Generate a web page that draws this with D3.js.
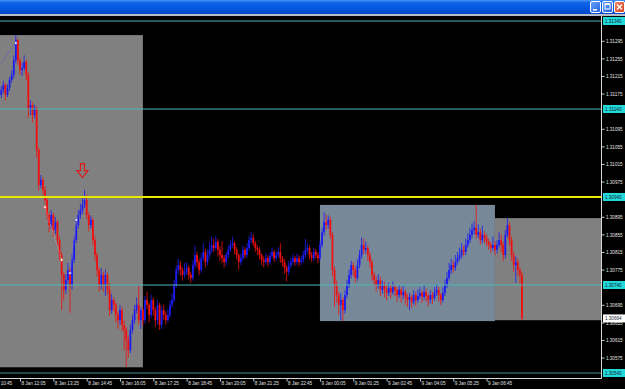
<!DOCTYPE html>
<html>
<head>
<meta charset="utf-8">
<script src="https://cdn.jsdelivr.net/npm/d3@7"></script>
<style>
  html, body { margin: 0; padding: 0; background: #000; overflow: hidden; }
  svg { display: block; }
  text { font-family: "Liberation Sans", Arial, sans-serif; }
</style>
</head>
<body>
<svg id="chart" width="625" height="389"></svg>
<script>
// M5 bars as [open, high, low, close], one array per session
const bars8JanA = [ // from 8 Jan 11:20
  [1.31172,1.31192,1.31165,1.31183],[1.31183,1.31204,1.31176,1.31195],[1.31195,1.31199,1.31160,1.31172],[1.31172,1.31196,1.31167,1.31188],
  [1.31188,1.31213,1.31181,1.31206],[1.31206,1.31228,1.31199,1.31217],[1.31217,1.31262,1.31210,1.31251],[1.31251,1.31308,1.31244,1.31297],
  [1.31297,1.31300,1.31240,1.31251],[1.31251,1.31256,1.31218,1.31229],[1.31229,1.31245,1.31215,1.31233],[1.31233,1.31262,1.31226,1.31247],
  [1.31247,1.31252,1.31206,1.31217],[1.31217,1.31224,1.31120,1.31138],[1.31138,1.31160,1.31126,1.31149],[1.31149,1.31155,1.31110,1.31126],
  [1.31126,1.31150,1.31118,1.31142],[1.31142,1.31146,1.31030,1.31047],[1.31047,1.31052,1.30955,1.30967],[1.30967,1.30990,1.30960,1.30979],
  [1.30979,1.30985,1.30945,1.30956],[1.30956,1.30965,1.30925,1.30933],[1.30933,1.30940,1.30888,1.30899],[1.30899,1.30905,1.30860,1.30876],
  [1.30876,1.30910,1.30868,1.30899],[1.30899,1.30904,1.30850,1.30865],[1.30865,1.30895,1.30855,1.30883],[1.30883,1.30888,1.30830,1.30842],
  [1.30842,1.30850,1.30795,1.30808],[1.30808,1.30815,1.30683,1.30763],[1.30763,1.30770,1.30705,1.30729],[1.30729,1.30765,1.30720,1.30751],
  [1.30751,1.30790,1.30740,1.30774],[1.30774,1.30780,1.30677,1.30740],[1.30740,1.30810,1.30730,1.30797],[1.30797,1.30850,1.30790,1.30842],
  [1.30842,1.30885,1.30835,1.30876],[1.30876,1.30910,1.30868,1.30899],[1.30899,1.30925,1.30890,1.30910],[1.30910,1.30940,1.30902,1.30922],
  [1.30922,1.30956,1.30915,1.30933],[1.30933,1.30945,1.30890,1.30899],[1.30899,1.30905,1.30862,1.30876],[1.30876,1.30898,1.30868,1.30888],
  [1.30888,1.30893,1.30830,1.30842],[1.30842,1.30850,1.30795,1.30808],[1.30808,1.30815,1.30760,1.30774],[1.30774,1.30780,1.30725,1.30740],
  [1.30740,1.30778,1.30730,1.30763],[1.30763,1.30770,1.30725,1.30740],[1.30740,1.30775,1.30715,1.30763],[1.30763,1.30768,1.30718,1.30729],
  [1.30729,1.30745,1.30670,1.30683],[1.30683,1.30720,1.30675,1.30706],[1.30706,1.30712,1.30680,1.30695],[1.30695,1.30700,1.30655,1.30672],
  [1.30672,1.30680,1.30640,1.30660],[1.30660,1.30695,1.30650,1.30683],[1.30683,1.30690,1.30635,1.30649],[1.30649,1.30660,1.30592,1.30638],
  [1.30638,1.30645,1.30553,1.30615],[1.30615,1.30625,1.30575,1.30592],[1.30592,1.30650,1.30585,1.30638],[1.30638,1.30672,1.30630,1.30660],
  [1.30660,1.30695,1.30652,1.30683],[1.30683,1.30712,1.30675,1.30695],[1.30695,1.30740,1.30650,1.30660],[1.30660,1.30690,1.30640,1.30683]
];
const bars8JanB = [ // from 8 Jan 17:00
  [1.30683,1.30690,1.30648,1.30660],[1.30660,1.30715,1.30652,1.30706],[1.30706,1.30725,1.30685,1.30695],[1.30695,1.30700,1.30655,1.30672],
  [1.30672,1.30718,1.30665,1.30706],[1.30706,1.30712,1.30670,1.30683],[1.30683,1.30690,1.30645,1.30660],[1.30660,1.30705,1.30650,1.30695],
  [1.30695,1.30700,1.30638,1.30649],[1.30649,1.30692,1.30640,1.30683],[1.30683,1.30695,1.30660,1.30672],[1.30672,1.30680,1.30650,1.30660],
  [1.30660,1.30685,1.30655,1.30672],[1.30672,1.30705,1.30665,1.30695],[1.30695,1.30720,1.30688,1.30706],[1.30706,1.30752,1.30700,1.30740],
  [1.30740,1.30785,1.30733,1.30774],[1.30774,1.30800,1.30765,1.30785],[1.30785,1.30795,1.30760,1.30774],[1.30774,1.30780,1.30750,1.30763],
  [1.30763,1.30790,1.30755,1.30770],[1.30770,1.30792,1.30762,1.30779],[1.30779,1.30785,1.30752,1.30763],[1.30763,1.30770,1.30745,1.30756],
  [1.30756,1.30797,1.30750,1.30785],[1.30785,1.30830,1.30778,1.30808],[1.30808,1.30815,1.30780,1.30792],[1.30792,1.30800,1.30762,1.30774],
  [1.30774,1.30812,1.30768,1.30801],[1.30801,1.30835,1.30795,1.30815],[1.30815,1.30822,1.30780,1.30792],[1.30792,1.30820,1.30785,1.30808],
  [1.30808,1.30838,1.30800,1.30820],[1.30820,1.30850,1.30812,1.30831],[1.30831,1.30845,1.30815,1.30824],[1.30824,1.30852,1.30818,1.30838],
  [1.30838,1.30845,1.30805,1.30820],[1.30820,1.30828,1.30795,1.30808],[1.30808,1.30840,1.30790,1.30801],[1.30801,1.30808,1.30780,1.30792],
  [1.30792,1.30815,1.30785,1.30808],[1.30808,1.30830,1.30800,1.30820],[1.30820,1.30842,1.30815,1.30831],[1.30831,1.30850,1.30825,1.30835],
  [1.30835,1.30840,1.30810,1.30820],[1.30820,1.30826,1.30798,1.30808],[1.30808,1.30812,1.30775,1.30792],[1.30792,1.30812,1.30785,1.30801],
  [1.30801,1.30830,1.30795,1.30820],[1.30820,1.30826,1.30800,1.30808],[1.30808,1.30835,1.30802,1.30824],[1.30824,1.30852,1.30818,1.30842],
  [1.30842,1.30860,1.30835,1.30847],[1.30847,1.30855,1.30828,1.30835],[1.30835,1.30840,1.30815,1.30824],[1.30824,1.30830,1.30808,1.30820],
  [1.30820,1.30826,1.30798,1.30808],[1.30808,1.30812,1.30785,1.30797],[1.30797,1.30805,1.30780,1.30792],[1.30792,1.30812,1.30786,1.30801],
  [1.30801,1.30808,1.30782,1.30792],[1.30792,1.30815,1.30786,1.30806],[1.30806,1.30825,1.30800,1.30815],[1.30815,1.30820,1.30792,1.30801],
  [1.30801,1.30818,1.30795,1.30808],[1.30808,1.30826,1.30802,1.30815],[1.30815,1.30835,1.30790,1.30801],[1.30801,1.30806,1.30782,1.30792],
  [1.30792,1.30798,1.30765,1.30779],[1.30779,1.30785,1.30748,1.30770],[1.30770,1.30795,1.30762,1.30785],[1.30785,1.30802,1.30778,1.30792],
  [1.30792,1.30810,1.30786,1.30801],[1.30801,1.30806,1.30784,1.30792],[1.30792,1.30812,1.30786,1.30801],[1.30801,1.30808,1.30783,1.30792],
  [1.30792,1.30806,1.30786,1.30797],[1.30797,1.30818,1.30790,1.30808],[1.30808,1.30845,1.30802,1.30820],[1.30820,1.30835,1.30812,1.30824],
  [1.30824,1.30830,1.30798,1.30808],[1.30808,1.30815,1.30792,1.30801],[1.30801,1.30825,1.30795,1.30815],[1.30815,1.30822,1.30800,1.30808]
];
const bars9JanA = [ // from 9 Jan 00:00
  [1.30808,1.30815,1.30790,1.30801],[1.30801,1.30840,1.30795,1.30831],[1.30831,1.30870,1.30825,1.30860],[1.30860,1.30905,1.30852,1.30883],
  [1.30883,1.30900,1.30865,1.30876],[1.30876,1.30898,1.30868,1.30888],[1.30888,1.30895,1.30845,1.30854],[1.30854,1.30860,1.30760,1.30774],
  [1.30774,1.30782,1.30690,1.30740],[1.30740,1.30750,1.30700,1.30717],[1.30717,1.30725,1.30672,1.30695],[1.30695,1.30722,1.30660,1.30706],
  [1.30706,1.30712,1.30658,1.30683],[1.30683,1.30728,1.30675,1.30717],[1.30717,1.30752,1.30710,1.30740],[1.30740,1.30775,1.30733,1.30763],
  [1.30763,1.30795,1.30755,1.30785],[1.30785,1.30792,1.30760,1.30774],[1.30774,1.30780,1.30745,1.30756],[1.30756,1.30798,1.30750,1.30785],
  [1.30785,1.30820,1.30778,1.30808],[1.30808,1.30848,1.30800,1.30831],[1.30831,1.30845,1.30810,1.30820],[1.30820,1.30838,1.30812,1.30824],
  [1.30824,1.30830,1.30795,1.30808],[1.30808,1.30815,1.30780,1.30792],[1.30792,1.30798,1.30750,1.30763],[1.30763,1.30770,1.30738,1.30751],
  [1.30751,1.30760,1.30725,1.30740],[1.30740,1.30765,1.30732,1.30751],[1.30751,1.30758,1.30715,1.30729],[1.30729,1.30750,1.30720,1.30740],
  [1.30740,1.30748,1.30712,1.30729],[1.30729,1.30740,1.30705,1.30722],[1.30722,1.30745,1.30715,1.30733],[1.30733,1.30740,1.30710,1.30724],
  [1.30724,1.30748,1.30718,1.30735],[1.30735,1.30742,1.30715,1.30729],[1.30729,1.30735,1.30702,1.30717],[1.30717,1.30740,1.30710,1.30729],
  [1.30729,1.30735,1.30700,1.30717],[1.30717,1.30738,1.30708,1.30724],[1.30724,1.30730,1.30695,1.30713],[1.30713,1.30720,1.30690,1.30706],
  [1.30706,1.30722,1.30683,1.30713],[1.30713,1.30718,1.30688,1.30701],[1.30701,1.30728,1.30695,1.30717],[1.30717,1.30724,1.30692,1.30706],
  [1.30706,1.30730,1.30700,1.30715],[1.30715,1.30735,1.30708,1.30722],[1.30722,1.30728,1.30700,1.30713],[1.30713,1.30740,1.30706,1.30724],
  [1.30724,1.30732,1.30702,1.30715],[1.30715,1.30720,1.30692,1.30706],[1.30706,1.30728,1.30698,1.30717],[1.30717,1.30724,1.30696,1.30710],
  [1.30710,1.30735,1.30704,1.30722],[1.30722,1.30742,1.30715,1.30729],[1.30729,1.30736,1.30702,1.30717],[1.30717,1.30722,1.30695,1.30706],
  [1.30706,1.30735,1.30700,1.30722],[1.30722,1.30752,1.30715,1.30740],[1.30740,1.30770,1.30733,1.30756],[1.30756,1.30790,1.30750,1.30774],
  [1.30774,1.30800,1.30765,1.30785],[1.30785,1.30795,1.30768,1.30779],[1.30779,1.30808,1.30772,1.30792],[1.30792,1.30815,1.30785,1.30801],
  [1.30801,1.30825,1.30795,1.30808],[1.30808,1.30835,1.30800,1.30820],[1.30820,1.30830,1.30805,1.30815],[1.30815,1.30845,1.30808,1.30831],
  [1.30831,1.30858,1.30825,1.30842],[1.30842,1.30870,1.30835,1.30854],[1.30854,1.30880,1.30846,1.30865],[1.30865,1.30885,1.30855,1.30870],
  [1.30870,1.30922,1.30845,1.30854],[1.30854,1.30878,1.30846,1.30860],[1.30860,1.30868,1.30832,1.30842],[1.30842,1.30875,1.30835,1.30854],
  [1.30854,1.30862,1.30835,1.30847],[1.30847,1.30855,1.30828,1.30838],[1.30838,1.30845,1.30820,1.30831],[1.30831,1.30838,1.30812,1.30824]
];
const bars9JanB = [ // from 9 Jan 07:00
  [1.30824,1.30850,1.30818,1.30831],[1.30831,1.30840,1.30808,1.30820],[1.30820,1.30842,1.30812,1.30831],[1.30831,1.30860,1.30825,1.30842],
  [1.30842,1.30855,1.30815,1.30831],[1.30831,1.30838,1.30795,1.30808],[1.30808,1.30865,1.30800,1.30854],[1.30854,1.30892,1.30848,1.30876],
  [1.30876,1.30882,1.30830,1.30842],[1.30842,1.30850,1.30795,1.30808],[1.30808,1.30815,1.30770,1.30785],[1.30785,1.30805,1.30745,1.30792],
  [1.30792,1.30800,1.30760,1.30774],[1.30774,1.30780,1.30745,1.30763],[1.30763,1.30770,1.30660,1.30664]
];
const sessionStarts = ['2013-01-08 11:20', '2013-01-08 17:00', '2013-01-09 00:00', '2013-01-09 07:00'];

// range boxes drawn behind the bars
const boxStarts = ['2013-01-08 09:00', '2013-01-09 00:05', '2013-01-09 07:05'];
const boxEnds = ['2013-01-08 17:00', '2013-01-09 07:05', '2013-01-09 12:00'];
const boxHighs = [1.31308, 1.30922, 1.30892];
const boxLows = [1.30553, 1.30658, 1.30660];

// horizontal lines
const levelPrices = [1.31340, 1.31140, 1.30940, 1.30740, 1.30540];
const currentPrice = 1.30664;

// axis ticks
const priceTicks = [1.30575, 1.30615, 1.30655, 1.30695, 1.30775, 1.30815, 1.30855, 1.30895,
  1.30975, 1.31015, 1.31055, 1.31095, 1.31175, 1.31215, 1.31255, 1.31295];
const timeTicks = ['2013-01-08 10:45', '2013-01-08 12:05', '2013-01-08 13:25', '2013-01-08 14:45',
  '2013-01-08 16:05', '2013-01-08 17:25', '2013-01-08 18:45', '2013-01-08 20:05', '2013-01-08 21:25',
  '2013-01-08 22:45', '2013-01-09 00:05', '2013-01-09 01:25', '2013-01-09 02:45', '2013-01-09 04:05',
  '2013-01-09 05:25', '2013-01-09 06:45'];

// swing markers (pairs joined by dotted lines) and the sell arrow
const swingTimes = [['2013-01-08 11:20', '2013-01-08 11:55'], ['2013-01-08 13:05', '2013-01-08 13:45'], ['2013-01-08 14:05', '2013-01-08 14:20']];
const swingPrices = [[1.31245, 1.31290], [1.30917, 1.30797], [1.30767, 1.30888]];
const arrowTime = '2013-01-08 14:35';
const arrowPrice = 1.31000;

const SVG = d3.select('#chart');
const W = 625, H = 389;
const PLOT = { left: 0, right: 601, top: 16, bottom: 378 };
const BULL = '#1c1cf2', BEAR = '#f01010';
const BOX_COLORS = ['#808080', '#778899', '#808080'];
const LEVEL_COLORS = ['#4fb3b3', '#4fb8b8', '#e8e800', '#4fb8b8', '#3f8f8f'];
const BAR_MINUTES = 5;

const parseTime = d3.timeParse('%Y-%m-%d %H:%M');

const buildBars = () => {
    const all = [];
    [bars8JanA, bars8JanB, bars9JanA, bars9JanB].forEach((bars, s) => {
        const t0 = parseTime(sessionStarts[s]);
        bars.forEach((b, k) => {
            all.push({
                time: d3.timeMinute.offset(t0, k * BAR_MINUTES),
                open: b[0], high: b[1], low: b[2], close: b[3]
            });
        });
    });
    return all;
}

const DATA = buildBars();

const X = d3.scaleTime()
    .domain([DATA[0].time, DATA[DATA.length - 1].time])
    .range([1.25, 522]);
const Y = d3.scaleLinear()
    .domain([1.30540, 1.31340])
    .range([373, 21]);
const STEP = X(d3.timeMinute.offset(DATA[0].time, BAR_MINUTES)) - X(DATA[0].time);

const buildTitleBar = () => {
    const defs = SVG.append('defs');
    const grad = defs.append('linearGradient').attr('id', 'titleGrad')
        .attr('x1', 0).attr('y1', 0).attr('x2', 0).attr('y2', 1);
    [['0%', '#4a95f5'], ['18%', '#1266ea'], ['55%', '#0558e2'], ['100%', '#0349c8']]
        .forEach(s => grad.append('stop').attr('offset', s[0]).attr('stop-color', s[1]));
    const btn = defs.append('linearGradient').attr('id', 'btnGrad')
        .attr('x1', 0).attr('y1', 0).attr('x2', 1).attr('y2', 1);
    [['0%', '#6aa4f8'], ['100%', '#1f5fe0']]
        .forEach(s => btn.append('stop').attr('offset', s[0]).attr('stop-color', s[1]));
    const red = defs.append('linearGradient').attr('id', 'closeGrad')
        .attr('x1', 0).attr('y1', 0).attr('x2', 1).attr('y2', 1);
    [['0%', '#f08a6a'], ['100%', '#d23c1c']]
        .forEach(s => red.append('stop').attr('offset', s[0]).attr('stop-color', s[1]));
    defs.append('clipPath').attr('id', 'plotClip').append('rect')
        .attr('x', PLOT.left).attr('y', PLOT.top)
        .attr('width', PLOT.right - PLOT.left).attr('height', PLOT.bottom - PLOT.top);

    SVG.append('rect').attr('width', W).attr('height', 14).attr('fill', 'url(#titleGrad)');
    SVG.append('rect').attr('y', 14).attr('width', W).attr('height', 2).attr('fill', '#b4bcc6');

    const g = SVG.append('g').attr('id', 'buttons');
    [590.5, 602.5, 614.5].forEach((x, i) => {
        g.append('rect').attr('x', x).attr('y', 1.5).attr('width', 10).attr('height', 11).attr('rx', 1.5)
            .attr('fill', i === 2 ? 'url(#closeGrad)' : 'url(#btnGrad)')
            .attr('stroke', '#fff').attr('stroke-width', 1);
    });
    g.append('rect').attr('x', 593).attr('y', 9).attr('width', 4).attr('height', 1.5).attr('fill', '#fff');
    g.append('rect').attr('x', 605).attr('y', 4).attr('width', 5).attr('height', 5)
        .attr('fill', 'none').attr('stroke', '#fff').attr('stroke-width', 1);
    g.append('rect').attr('x', 605).attr('y', 3.5).attr('width', 5).attr('height', 1.5).attr('fill', '#fff');
    g.append('path').attr('d', 'M617,4.5L622,9.5M622,4.5L617,9.5')
        .attr('stroke', '#fff').attr('stroke-width', 1.4);
}

const buildBoxes = () => {
    SVG.append('g').attr('id', 'boxes').attr('clip-path', 'url(#plotClip)')
        .selectAll('rect')
        .data(boxStarts.map((s, i) => ({ i, from: parseTime(s), to: parseTime(boxEnds[i]), high: boxHighs[i], low: boxLows[i] })))
        .join('rect')
        .attr('x', d => X(d.from))
        .attr('width', d => X(d.to) - X(d.from))
        .attr('y', d => Y(d.high))
        .attr('height', d => Y(d.low) - Y(d.high))
        .style('fill', d => BOX_COLORS[d.i]);
}

const buildCandles = () => {
    const g = SVG.append('g').attr('id', 'candles').attr('clip-path', 'url(#plotClip)');
    g.selectAll('line')
        .data(DATA)
        .join('line')
        .attr('x1', d => X(d.time)).attr('x2', d => X(d.time))
        .attr('y1', d => Y(d.high)).attr('y2', d => Y(d.low))
        .style('stroke', d => d.close >= d.open ? BULL : BEAR)
        .style('stroke-opacity', 0.8)
        .style('stroke-width', 1);
    g.selectAll('rect')
        .data(DATA)
        .join('rect')
        .attr('x', d => X(d.time) - STEP * 0.43)
        .attr('width', STEP * 0.86)
        .attr('y', d => Y(Math.max(d.open, d.close)))
        .attr('height', d => Math.max(1, Math.abs(Y(d.open) - Y(d.close))))
        .style('fill', d => d.close >= d.open ? BULL : BEAR);
}

const buildMarks = () => {
    const g = SVG.append('g').attr('id', 'marks').attr('clip-path', 'url(#plotClip)');
    const lineColors = ['#4a4ae8', '#e89a9a', '#6a6af0'];
    swingTimes.forEach((pair, i) => {
        g.append('line')
            .attr('x1', X(parseTime(pair[0]))).attr('y1', Y(swingPrices[i][0]))
            .attr('x2', X(parseTime(pair[1]))).attr('y2', Y(swingPrices[i][1]))
            .style('stroke', lineColors[i]).style('stroke-width', 1)
            .style('stroke-dasharray', '1,1.5');
    });
    const pts = [];
    swingTimes.forEach((pair, i) => pair.forEach((t, j) => pts.push({ t: parseTime(t), p: swingPrices[i][j], i })));
    g.selectAll('circle')
        .data(pts.slice(1))
        .join('circle')
        .attr('cx', d => X(d.t)).attr('cy', d => Y(d.p)).attr('r', 1.4)
        .style('fill', '#fff3e0')
        .style('stroke', d => d.i === 1 ? '#d05050' : '#3030d0')
        .style('stroke-width', 0.6);

    const cx = X(parseTime(arrowTime)), cy = Y(arrowPrice);
    g.append('path')
        .attr('d', `M${cx - 2},${cy - 7}H${cx + 2}V${cy}H${cx + 5.5}L${cx},${cy + 7}L${cx - 5.5},${cy}H${cx - 2}Z`)
        .style('fill', 'none').style('stroke', '#e01818').style('stroke-width', 1.2);
}

const buildLevels = () => {
    SVG.append('g').attr('id', 'levels')
        .selectAll('line')
        .data(levelPrices)
        .join('line')
        .attr('x1', PLOT.left).attr('x2', PLOT.right)
        .attr('y1', d => Y(d)).attr('y2', d => Y(d))
        .style('stroke', (d, i) => LEVEL_COLORS[i])
        .style('stroke-width', (d, i) => i === 2 ? 2 : 1);
}

const buildAxes = () => {
    // frame
    SVG.append('line').attr('x1', PLOT.right + 0.5).attr('x2', PLOT.right + 0.5)
        .attr('y1', PLOT.top).attr('y2', PLOT.bottom + 0.5)
        .style('stroke', '#d8d8d8').style('stroke-width', 1);
    SVG.append('line').attr('x1', PLOT.left).attr('x2', PLOT.right + 0.5)
        .attr('y1', PLOT.bottom + 0.5).attr('y2', PLOT.bottom + 0.5)
        .style('stroke', '#d8d8d8').style('stroke-width', 1);

    const yAxis = d3.axisRight(Y).tickValues(priceTicks).tickFormat(d3.format('.5f')).tickSize(3).tickPadding(1.5);
    const yg = SVG.append('g').attr('id', 'yAxis').attr('transform', `translate(${PLOT.right + 0.5},0)`);
    yAxis(yg);
    yg.select('.domain').remove();
    yg.selectAll('line').style('stroke', '#cfcfcf');
    yg.selectAll('text').style('fill', '#e4e4e4').style('font-size', '5.2px')
        .attr('textLength', 16.5).attr('lengthAdjust', 'spacingAndGlyphs');

    const xAxis = d3.axisBottom(X).tickValues(timeTicks.map(parseTime))
        .tickFormat(d3.timeFormat('%-d %b %H:%M')).tickSize(3);
    const xg = SVG.append('g').attr('id', 'xAxis').attr('transform', `translate(0,${PLOT.bottom + 0.5})`);
    xAxis(xg);
    xg.select('.domain').remove();
    xg.selectAll('line').style('stroke', '#cfcfcf');
    xg.selectAll('text').style('fill', '#e4e4e4').style('font-size', '6px')
        .attr('text-anchor', 'start').attr('x', 1).attr('y', 2.5)
        .attr('textLength', 24).attr('lengthAdjust', 'spacingAndGlyphs');

    // price boxes for the lines and the last bid
    const boxes = levelPrices.map(p => ({ p, fill: '#22d8d8' })).concat([{ p: currentPrice, fill: '#ffffff' }]);
    const lg = SVG.append('g').attr('id', 'priceLabels');
    lg.selectAll('rect').data(boxes).join('rect')
        .attr('x', PLOT.right + 2).attr('width', W - PLOT.right - 2)
        .attr('y', d => Y(d.p) - 4).attr('height', 8)
        .style('fill', d => d.fill);
    lg.selectAll('text').data(boxes).join('text')
        .attr('x', PLOT.right + 4).attr('y', d => Y(d.p) + 2)
        .text(d => d3.format('.5f')(d.p))
        .style('fill', '#102030').style('font-size', '5.2px')
        .attr('textLength', 16.5).attr('lengthAdjust', 'spacingAndGlyphs');
}

SVG.append('rect').attr('width', W).attr('height', H).attr('fill', '#000');
buildTitleBar();
buildBoxes();
buildCandles();
buildMarks();
buildLevels();
buildAxes();
</script>
</body>
</html>
